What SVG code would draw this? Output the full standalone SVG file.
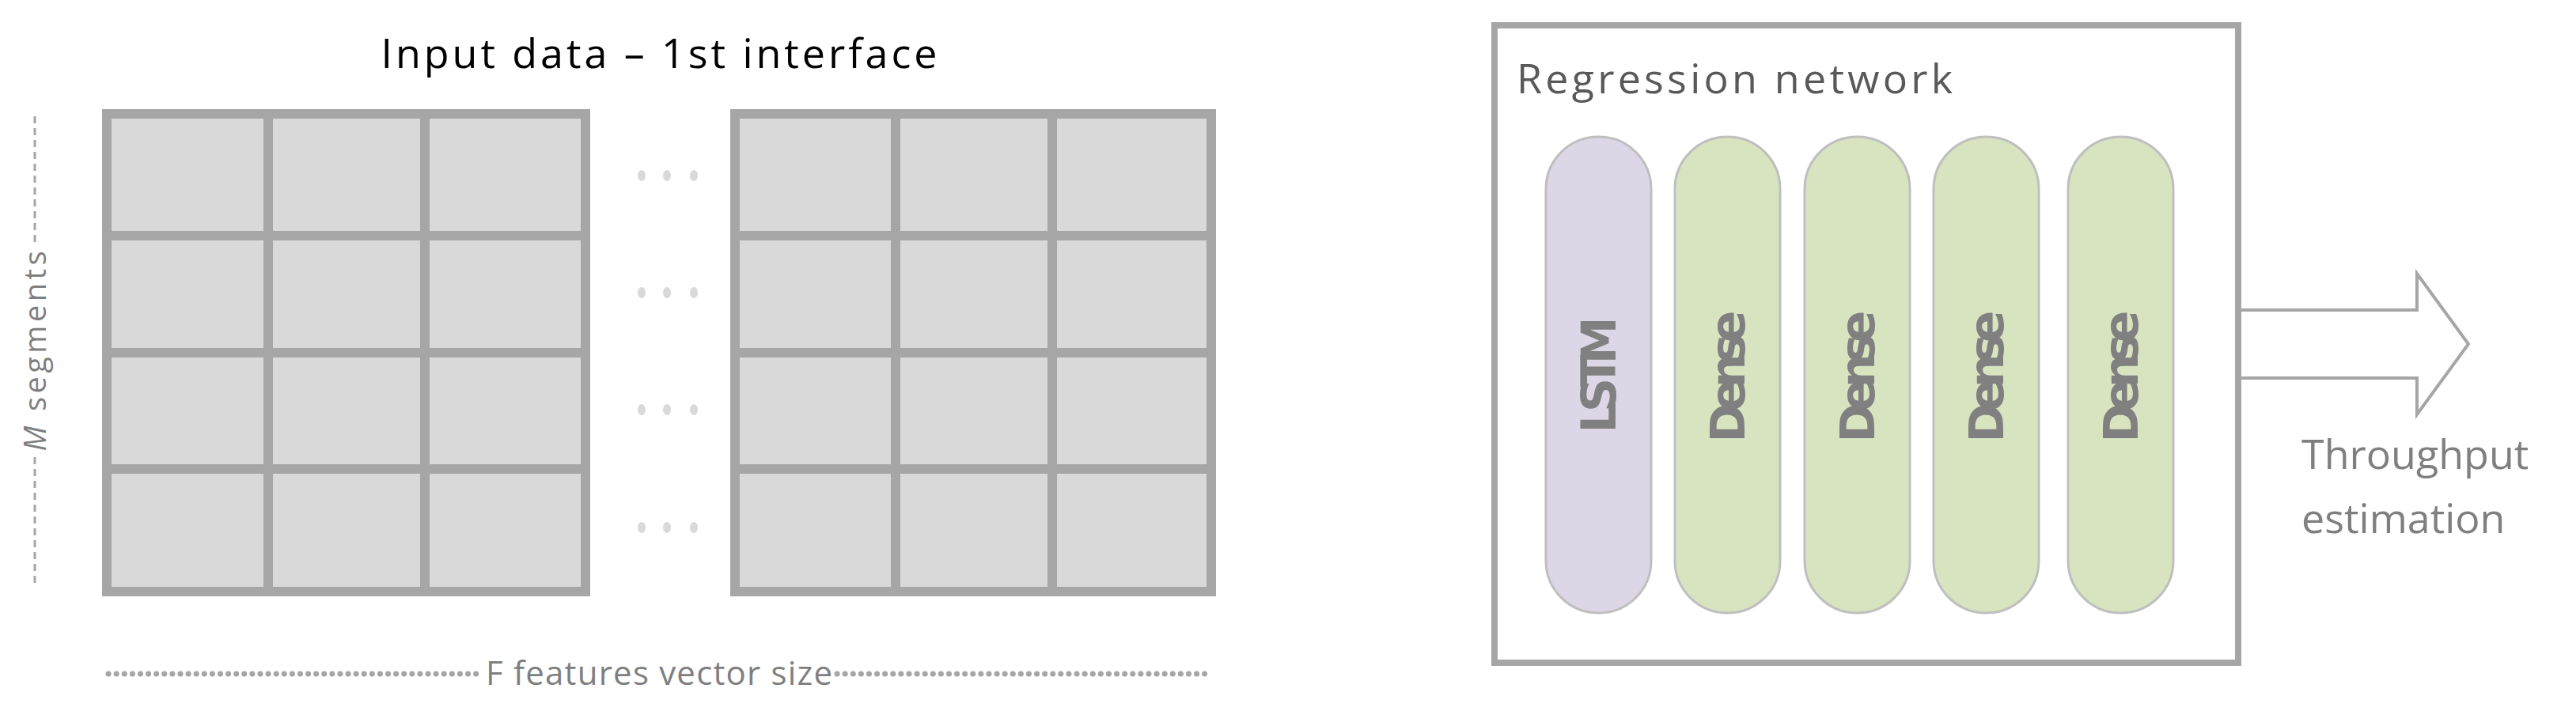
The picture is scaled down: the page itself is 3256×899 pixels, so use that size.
<svg xmlns="http://www.w3.org/2000/svg" width="3256" height="899" viewBox="0 0 3256 899">
<style>
.cell{fill:#d9d9d9}
.gl{stroke:#a6a6a6;stroke-width:12;fill:none}
.dot{fill:#d9d9d9}
.t{font-family:"Open Sans","Liberation Sans",sans-serif}
.pill{stroke:#bfbfbf;stroke-width:3}
.pt{font-family:"DejaVu Sans",sans-serif;font-weight:bold;font-size:60px;fill:#808080;text-anchor:middle}
</style>
<rect width="3256" height="899" fill="#fff"/>
<text class="t" x="833" y="86" font-size="52" text-anchor="middle" fill="#000" textLength="703">Input data – 1st interface</text>
<g id="grid1">
<rect class="cell" x="135" y="144" width="605" height="604"/>
<path class="gl" d="M135 144H740V748H135Z M339 144V748 M537 144V748 M135 298H740 M135 446H740 M135 593H740"/>
</g>
<g id="grid2">
<rect class="cell" x="929" y="144" width="602" height="604"/>
<path class="gl" d="M929 144H1531V748H929Z M1132 144V748 M1330 144V748 M929 298H1531 M929 446H1531 M929 593H1531"/>
</g>
<g id="dots">
<g transform="translate(0,222)"><ellipse class="dot" cx="811" cy="0" rx="5" ry="7"/><ellipse class="dot" cx="843" cy="0" rx="5" ry="7"/><ellipse class="dot" cx="877" cy="0" rx="5" ry="7"/></g>
<g transform="translate(0,370)"><ellipse class="dot" cx="811" cy="0" rx="5" ry="7"/><ellipse class="dot" cx="843" cy="0" rx="5" ry="7"/><ellipse class="dot" cx="877" cy="0" rx="5" ry="7"/></g>
<g transform="translate(0,518)"><ellipse class="dot" cx="811" cy="0" rx="5" ry="7"/><ellipse class="dot" cx="843" cy="0" rx="5" ry="7"/><ellipse class="dot" cx="877" cy="0" rx="5" ry="7"/></g>
<g transform="translate(0,667)"><ellipse class="dot" cx="811" cy="0" rx="5" ry="7"/><ellipse class="dot" cx="843" cy="0" rx="5" ry="7"/><ellipse class="dot" cx="877" cy="0" rx="5" ry="7"/></g>
</g>
<g id="m-axis">
<path d="M44 147V310 M44 578V737" stroke="#a6a6a6" stroke-width="3" stroke-dasharray="9,6"/>
<text class="t" transform="translate(58,444) rotate(-90)" font-size="38" fill="#7f7f7f" text-anchor="middle" textLength="253"><tspan font-style="italic">M</tspan> segments</text>
</g>
<g id="f-axis">
<path d="M137 852H608 M1058 852H1529" stroke="#a6a6a6" stroke-width="7" stroke-linecap="round" stroke-dasharray="0.1,10"/>
<text class="t" x="833" y="866" font-size="42" fill="#7f7f7f" text-anchor="middle" textLength="438">F features vector size</text>
</g>
<g id="regression">
<rect x="1889" y="32" width="940" height="806" fill="#fff" stroke="#a6a6a6" stroke-width="8"/>
<text class="t" x="1917" y="118" font-size="52" fill="#595959" textLength="551">Regression network</text>
</g>
<g id="lstm"><rect class="pill" x="1954" y="173" width="133" height="602" rx="66" fill="#dcd6e6"/><text class="pt" transform="translate(2042,474) rotate(-90)" textLength="147">LSTM</text></g>
<g id="dense1"><rect class="pill" x="2117" y="173" width="133" height="602" rx="66" fill="#d8e4c0"/><text class="pt" transform="translate(2205,476) rotate(-90)" textLength="167">Dense</text></g>
<g id="dense2"><rect class="pill" x="2281" y="173" width="133" height="602" rx="66" fill="#d8e4c0"/><text class="pt" transform="translate(2369,476) rotate(-90)" textLength="167">Dense</text></g>
<g id="dense3"><rect class="pill" x="2444" y="173" width="133" height="602" rx="66" fill="#d8e4c0"/><text class="pt" transform="translate(2532,476) rotate(-90)" textLength="167">Dense</text></g>
<g id="dense4"><rect class="pill" x="2614" y="173" width="133" height="602" rx="66" fill="#d8e4c0"/><text class="pt" transform="translate(2702,476) rotate(-90)" textLength="167">Dense</text></g>
<g id="connectors">
<path d="M2833 392H3055V346L3120 435L3055 524V478H2833" fill="#fff" stroke="#a6a6a6" stroke-width="4" stroke-linejoin="miter"/>
</g>
<g id="output">
<text class="t" x="2909" y="593" font-size="52" fill="#7f7f7f">Throughput</text>
<text class="t" x="2909" y="674" font-size="52" fill="#7f7f7f">estimation</text>
</g>
</svg>
